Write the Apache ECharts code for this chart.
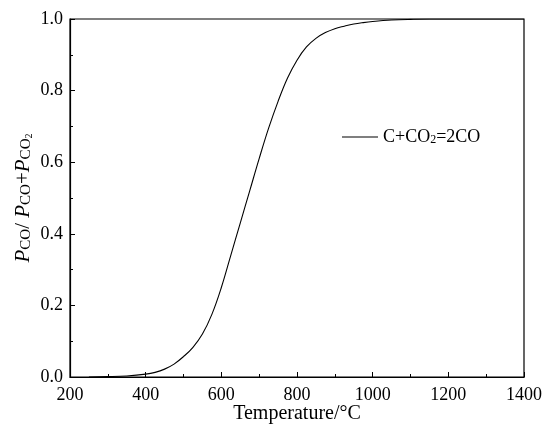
<!DOCTYPE html>
<html>
<head>
<meta charset="utf-8">
<script src="https://cdn.jsdelivr.net/npm/echarts@6/dist/echarts.min.js"></script>
<style>html,body{margin:0;padding:0;background:#fff}#c{width:544px;height:425px}</style>
</head>
<body>
<div id="c"></div>
<script>
var temperatures = [250, 300, 350, 400, 425, 450, 475, 500, 525, 550, 575, 600, 625, 650, 675, 700, 725, 750, 775, 800, 825, 850, 875, 900, 925, 950, 975, 1000, 1050, 1100, 1150, 1200, 1250, 1300, 1350, 1400];
var ratioCO = [0.000, 0.001, 0.003, 0.008, 0.013, 0.022, 0.036, 0.057, 0.083, 0.120, 0.175, 0.250, 0.340, 0.430, 0.520, 0.610, 0.695, 0.770, 0.835, 0.885, 0.922, 0.946, 0.962, 0.973, 0.980, 0.986, 0.990, 0.993, 0.997, 0.999, 1.000, 1.000, 1.000, 1.000, 1.000, 1.000];
var seriesName = 'C+CO2=2CO';
var xTicks = [200, 400, 600, 800, 1000, 1200, 1400];
var yTicks = [0.0, 0.2, 0.4, 0.6, 0.8, 1.0];

var points = temperatures.map(function (t, i) { return [t, ratioCO[i]]; });
var font = '"Liberation Serif", "Times New Roman", serif';
var chart = echarts.init(document.getElementById('c'));
chart.setOption({
  animation: false,
  backgroundColor: '#fff',
  grid: { left: 70, right: 20, top: 19, bottom: 48, outerBoundsMode: 'none', containLabel: false, show: true, borderColor: '#000', borderWidth: 1.2, backgroundColor: 'transparent' },
  legend: {
    left: 337, top: 123,
    itemWidth: 36, itemHeight: 12, itemGap: 9,
    icon: 'path://M0,6 L36,6 L36,7 L0,7 Z',
    data: [seriesName],
    formatter: function () { return '{a|C+CO}{s|2}{a|=2CO}'; },
    textStyle: {
      fontFamily: font, color: '#000', fontSize: 18,
      rich: {
        a: { fontFamily: font, fontSize: 18, color: '#000' },
        s: { fontFamily: font, fontSize: 12, color: '#000', verticalAlign: 'bottom', padding: [6, 0, 0, 0] }
      }
    }
  },
  xAxis: {
    type: 'value', min: xTicks[0], max: xTicks[xTicks.length - 1], interval: 200,
    name: 'Temperature/°C', nameLocation: 'middle', nameGap: 27, nameMoveOverlap: false,
    nameTextStyle: { fontFamily: font, fontSize: 20, color: '#000' },
    axisLine: { show: true, lineStyle: { color: '#000', width: 1.2 } },
    axisTick: { show: true, inside: true, length: 5, lineStyle: { color: '#000', width: 1 } },
    minorTick: { show: true, splitNumber: 2, length: 3, lineStyle: { color: '#000', width: 1 } },
    splitLine: { show: false },
    axisLabel: { fontFamily: font, fontSize: 18, color: '#000', margin: 9, formatter: function (v) { return String(v); } }
  },
  yAxis: {
    type: 'value', min: yTicks[0], max: yTicks[yTicks.length - 1], interval: 0.2,
    name: '{i|P}{s|CO}{n|/ }{i|P}{s|CO}{n|+}{i|P}{s|CO}{t|2}',
    nameLocation: 'middle', nameGap: 36, nameRotate: 90, nameMoveOverlap: false,
    nameTextStyle: {
      fontFamily: font, fontSize: 21, color: '#000',
      rich: {
        i: { fontFamily: font, fontSize: 21, fontStyle: 'italic', color: '#000' },
        n: { fontFamily: font, fontSize: 21, color: '#000' },
        s: { fontFamily: font, fontSize: 15, color: '#000', verticalAlign: 'bottom', padding: [5, 0, 0, 0] },
        t: { fontFamily: font, fontSize: 10, color: '#000', verticalAlign: 'bottom', padding: [6, 0, 0, 0] }
      }
    },
    axisLine: { show: true, lineStyle: { color: '#000', width: 1.2 } },
    axisTick: { show: true, inside: true, length: 5, lineStyle: { color: '#000', width: 1 } },
    minorTick: { show: true, splitNumber: 2, length: 3, lineStyle: { color: '#000', width: 1 } },
    splitLine: { show: false },
    axisLabel: { fontFamily: font, fontSize: 18, color: '#000', margin: 7, formatter: function (v) { return v.toFixed(1); } }
  },
  series: [{
    name: seriesName, type: 'line', data: points, smooth: 0.4, symbol: 'none',
    lineStyle: { color: '#000', width: 1.1 }, itemStyle: { color: '#000' }
  }]
});
</script>
</body>
</html>
